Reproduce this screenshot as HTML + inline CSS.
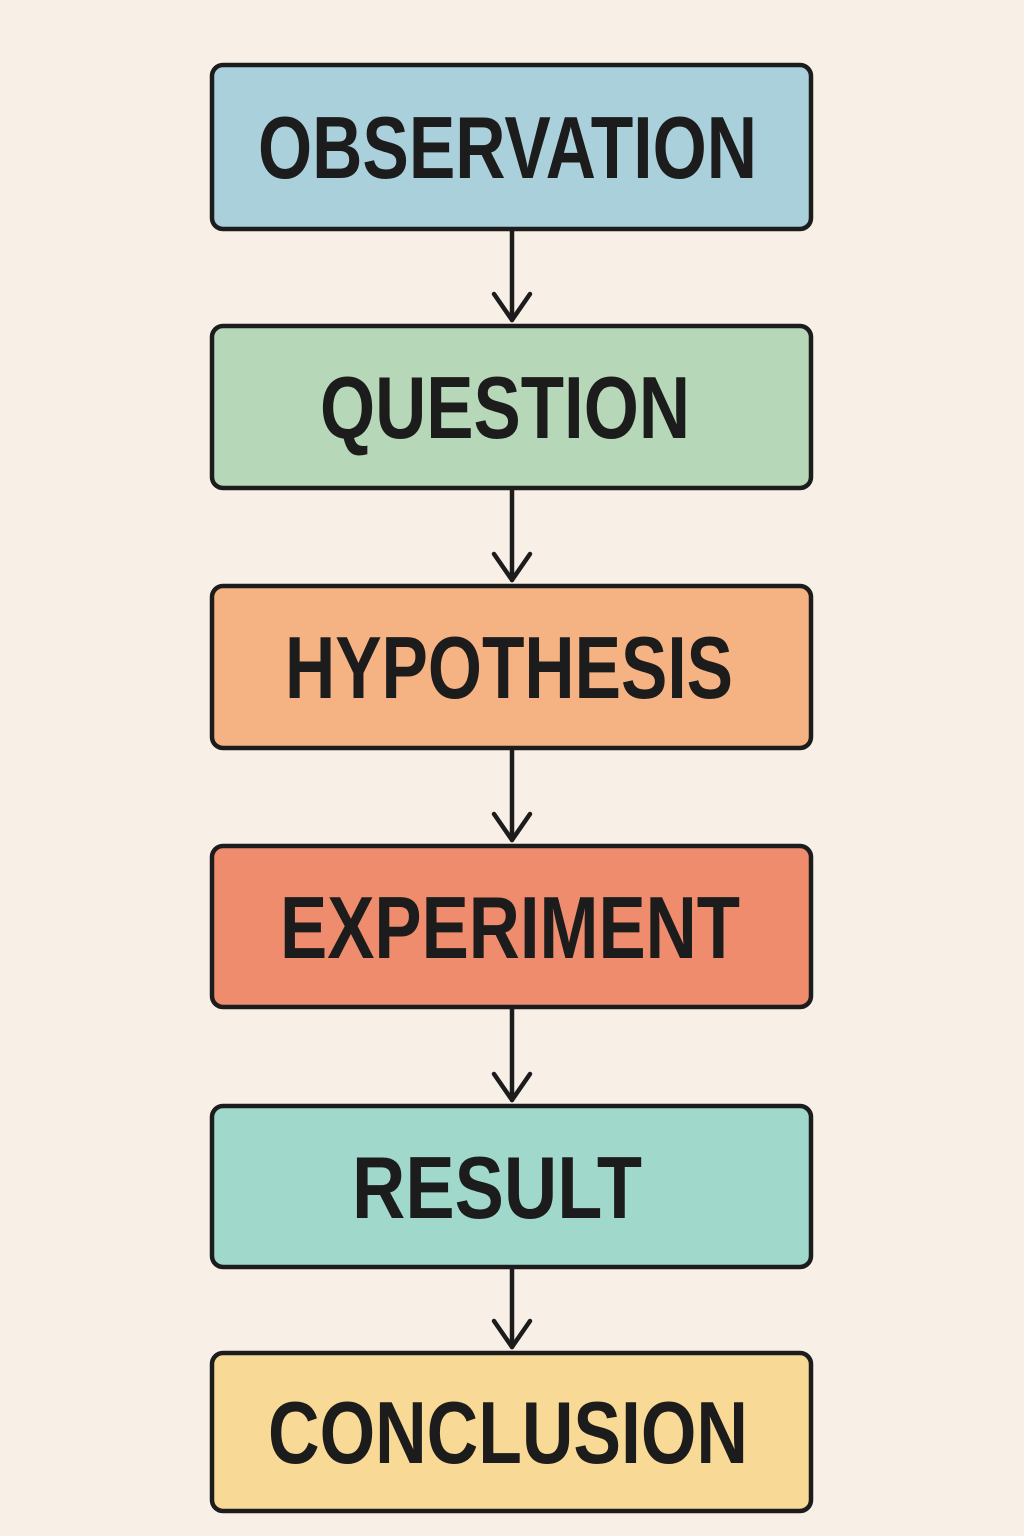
<!DOCTYPE html>
<html><head><style>html,body{margin:0;padding:0;background:#f8f0e7;}svg{display:block}</style></head>
<body>
<svg width="1024" height="1536" viewBox="0 0 1024 1536" xmlns="http://www.w3.org/2000/svg">
<rect width="1024" height="1536" fill="#f8f0e7"/>
<g stroke="#1c1c1c" stroke-width="4.5" stroke-linejoin="round">
<rect x="212" y="65" width="599" height="164" rx="11" fill="#aad0dc"/>
<rect x="212" y="326" width="599" height="162" rx="11" fill="#b6d8b8"/>
<rect x="212" y="586" width="599" height="162" rx="11" fill="#f5b283"/>
<rect x="212" y="846" width="599" height="161" rx="11" fill="#ef8c6e"/>
<rect x="212" y="1106" width="599" height="161" rx="11" fill="#a0d9cc"/>
<rect x="212" y="1353" width="599" height="158" rx="11" fill="#f8d995"/>
</g>
<g stroke="#1c1c1c" stroke-width="4.5" fill="none" stroke-linecap="round" stroke-linejoin="round">
<line x1="512" y1="231" x2="512" y2="320"/><polyline points="494,294 512,320 530,294"/>
<line x1="512" y1="490" x2="512" y2="580"/><polyline points="494,554 512,580 530,554"/>
<line x1="512" y1="750" x2="512" y2="840"/><polyline points="494,814 512,840 530,814"/>
<line x1="512" y1="1009" x2="512" y2="1100"/><polyline points="494,1074 512,1100 530,1074"/>
<line x1="512" y1="1269" x2="512" y2="1347"/><polyline points="494,1321 512,1347 530,1321"/>
</g>
<g font-family="Liberation Sans, sans-serif" font-weight="bold" font-size="88" fill="#1c1c1c">
<text x="258" y="178" textLength="499" lengthAdjust="spacingAndGlyphs">OBSERVATION</text>
<text x="320" y="438" textLength="370" lengthAdjust="spacingAndGlyphs">QUESTION</text>
<text x="285" y="698" textLength="448" lengthAdjust="spacingAndGlyphs">HYPOTHESIS</text>
<text x="280" y="958" textLength="460" lengthAdjust="spacingAndGlyphs">EXPERIMENT</text>
<text x="352" y="1218" textLength="290" lengthAdjust="spacingAndGlyphs">RESULT</text>
<text x="268" y="1463" textLength="480" lengthAdjust="spacingAndGlyphs">CONCLUSION</text>
</g>
</svg>
</body></html>
